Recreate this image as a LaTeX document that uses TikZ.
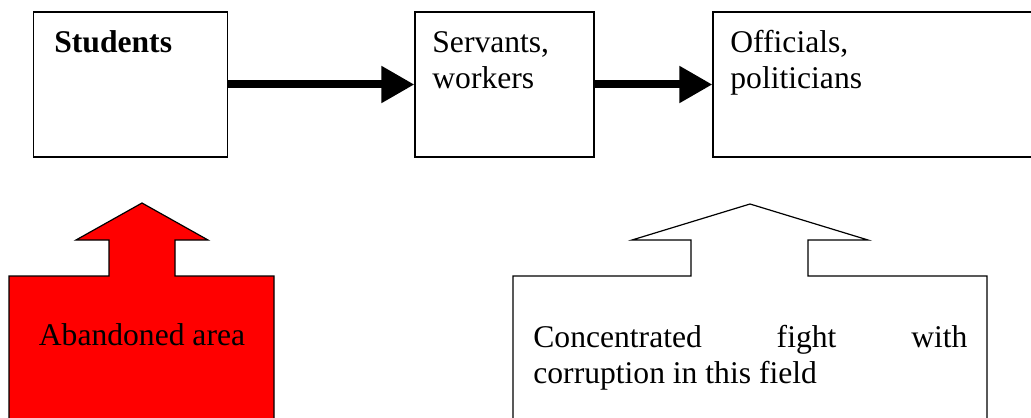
\documentclass[tikz,border=0pt]{standalone}
\usepackage{fontspec}
\setmainfont{Liberation Serif}
\usetikzlibrary{arrows.meta}

\tikzset{
    box/.style={draw, line width=0.6pt, minimum height=72.5pt, inner sep=0pt},
    flow/.style={line width=4pt, -{Triangle[length=16.5pt,width=17.5pt]}},
    lbl/.style={inner sep=0pt, font=\fontsize{15.8}{18}\selectfont, align=left},
    callout/.style={draw, line width=0.6pt, line join=miter}
}

\begin{document}
\begin{tikzpicture}[x=0.5pt, y=-0.5pt]
    \useasboundingbox (0,0) rectangle (1031,417);
    \clip (0,0) rectangle (1031,417);
    % top row
    \node[box, minimum width=96.75pt] (students) at (130.5,84.5) {};
    \node[box, minimum width=89.5pt] (servants) at (504.5,84.5) {};
    \node[box, minimum width=170pt] (officials) at (883,84.5) {};
    \node[lbl, anchor=base west] (tstud) at (54,53) {\textbf{Students}};
    \node[lbl, anchor=base west] (tserv) at (432,89) {Servants,\\workers};
    \node[lbl, anchor=base west] (toff) at (730,89) {Officials,\\politicians};
    \draw[flow] (students.east) -- (servants.west);
    \draw[flow] (servants.east) -- (officials.west);
    % bottom callouts
    \draw[callout, fill=red] (9,430) -- (9,276) -- (109,276) -- (109,240) -- (76,240)
        -- (142,203) -- (208,240) -- (175,240) -- (175,276) -- (274,276) -- (274,430);
    \draw[callout, fill=white] (513,430) -- (513,276) -- (691,276) -- (691,240) -- (632,240)
        -- (750,204) -- (868,240) -- (808,240) -- (808,276) -- (987,276) -- (987,430);
    \node[lbl, anchor=base] (tab) at (142,345) {Abandoned area};
    \node[lbl, anchor=base west] (tfight) at (533,383)
        {\makebox[217pt][s]{Concentrated fight with}\\corruption in this field};
\end{tikzpicture}
\end{document}
